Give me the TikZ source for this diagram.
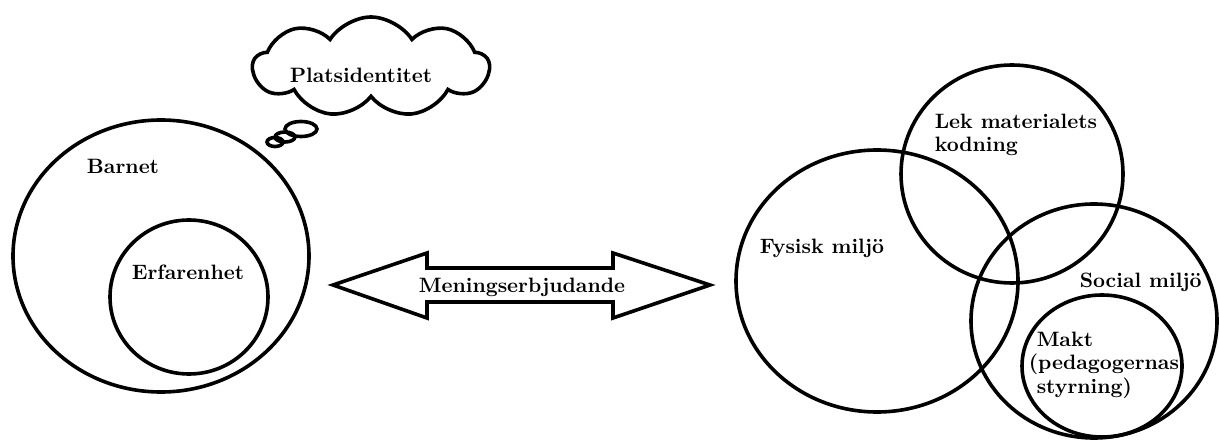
\documentclass[tikz,border=0pt]{standalone}
\usetikzlibrary{shapes.symbols}
\begin{document}
\begin{tikzpicture}[x=0.5pt,y=-0.5pt,line width=1.8pt,
    lbl/.style={font=\fontsize{10.4pt}{11.8pt}\selectfont\bfseries,inner sep=0pt}]
    \useasboundingbox (0,0) rectangle (1219,443);
    % barnet
    \draw (161,256) coordinate (B) ellipse (148 and 136);
    \draw (189,297) coordinate (E) ellipse (79 and 77);
    \node[lbl] (barnet) at (123,166) {Barnet};
    \node[lbl] (erfarenhet) at (188,272) {Erfarenhet};
    % tankebubbla
    \node[cloud, draw, cloud puffs=9, cloud puff arc=115, aspect=2.2,
        minimum width=118pt, minimum height=50pt] (moln) at (371,67) {};
    \node[lbl] (plats) at (361,75) {Platsidentitet};
    \draw (301,129) ellipse (16 and 7.5);
    \draw (285,137) ellipse (10 and 5);
    \draw (275,142) ellipse (8 and 4.5);
    % pilen
    \draw (333,285) -- (427,253) -- (427,268) -- (613,268) -- (613,253)
    -- (710,285) -- (613,318) -- (613,302) -- (427,302) -- (427,318) -- cycle;
    \node[lbl] (mening) at (522,287) {Meningserbjudande};
    % miljon
    \draw (877,281) coordinate (F) ellipse (141 and 131);
    \draw (1012,174) coordinate (L) ellipse (111 and 109);
    \draw (1094,321) coordinate (S) ellipse (123 and 117);
    \draw (1102,366) coordinate (M) ellipse (80 and 71);
    \node[lbl, anchor=west, align=left] (lek) at (933,135) {Lek materialets\\kodning};
    \node[lbl, anchor=west] (fysisk) at (758,248) {Fysisk milj\"o};
    \node[lbl, anchor=west] (social) at (1078,282) {Social milj\"o};
    \node[lbl, anchor=west, align=left] (makt) at (1027,365) {\ Makt\\(pedagogernas\\\ styrning)};
\end{tikzpicture}
\end{document}
